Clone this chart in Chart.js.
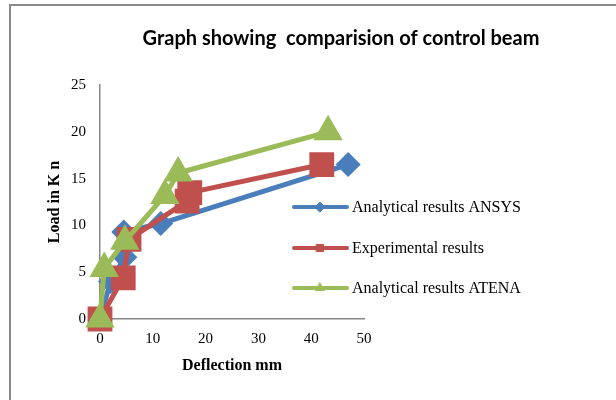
<!DOCTYPE html>
<html>
<head>
<meta charset="utf-8">
<script src="https://cdn.jsdelivr.net/npm/chart.js@4.4.1/dist/chart.umd.min.js"></script>
<style>
  html, body { margin: 0; padding: 0; background: #fff; }
  #wrap { width: 616px; height: 400px; position: relative; }
</style>
</head>
<body>
<div id="wrap"><canvas id="beamChart"></canvas></div>
<script>
// values
const seriesNames = ['Analytical results ANSYS', 'Experimental results', 'Analytical results ATENA'];

const ansysX = [0, 2, 4.7, 4.5, 11.5, 47];
const ansysY = [0, 4, 6.6, 9.3, 10.2, 16.5];

const expX = [0, 4.4, 5.5, 16.5, 17, 42];
const expY = [0, 4.4, 8.5, 12.6, 13.5, 16.5];

const atenaX = [0, 0.8, 4.7, 12.3, 14.8, 43.2];
const atenaY = [0, 5.4, 8.3, 13.2, 15.6, 20];

const xTicks = [0, 10, 20, 30, 40, 50];
const yTicks = [0, 5, 10, 15, 20, 25];

const chartTitle = 'Graph showing  comparision of control beam';

function pairs(xs, ys) {
    return xs.map((x, i) => ({ x: x, y: ys[i] }));
}

const serif = "'Liberation Serif', 'Times New Roman', serif";

// frame, title and the legend on the right
const decorPlugin = {
    id: 'decor',
    afterDraw(chart) {
        const ctx = chart.ctx;
        ctx.save();
        // outer frame (only top and left edges show)
        ctx.strokeStyle = '#8a8a8a';
        ctx.lineWidth = 2;
        ctx.beginPath();
        ctx.moveTo(10, 400);
        ctx.lineTo(10, 5);
        ctx.lineTo(616, 5);
        ctx.stroke();

        // title
        ctx.fillStyle = '#000';
        ctx.font = "bold 20px Lato, 'Open Sans', sans-serif";
        ctx.textAlign = 'center';
        ctx.textBaseline = 'middle';
        ctx.fillText(chartTitle, 341, 39);

        // legend
        const rows = [207, 248, 288];
        chart.data.datasets.forEach((ds, i) => {
            const y = rows[i];
            ctx.strokeStyle = ds.borderColor;
            ctx.lineWidth = 4;
            ctx.lineCap = 'round';
            ctx.beginPath();
            ctx.moveTo(294, y);
            ctx.lineTo(347, y);
            ctx.stroke();
            ctx.fillStyle = ds.backgroundColor;
            ctx.strokeStyle = ds.borderColor;
            ctx.lineWidth = 1;
            Chart.helpers.drawPoint(ctx, { pointStyle: ds.pointStyle, radius: 5, borderWidth: 1 }, 320, y);
            ctx.fillStyle = '#000';
            ctx.font = '16px ' + serif;
            ctx.textAlign = 'left';
            ctx.textBaseline = 'middle';
            ctx.fillText(ds.label, 352, y + 1);
        });
        ctx.restore();
    }
};

const ctx = document.getElementById('beamChart').getContext('2d');
new Chart(ctx, {
    type: 'line',
    data: {
        datasets: [{
            label: seriesNames[0],
            data: pairs(ansysX, ansysY),
            borderColor: '#4a7ebb',
            backgroundColor: '#4a7ebb',
            borderWidth: 5,
            pointStyle: 'rectRot',
            pointRadius: 9,
            order: 2
        }, {
            label: seriesNames[1],
            data: pairs(expX, expY),
            borderColor: '#c0504d',
            backgroundColor: '#c0504d',
            borderWidth: 5,
            pointStyle: 'rect',
            pointRadius: 14,
            order: 1
        }, {
            label: seriesNames[2],
            data: pairs(atenaX, atenaY),
            borderColor: '#9bbb59',
            backgroundColor: '#9bbb59',
            borderWidth: 5,
            pointStyle: 'triangle',
            pointRadius: 12,
            order: 0
        }]
    },
    options: {
        responsive: true,
        maintainAspectRatio: false,
        animation: false,
        events: [],
        layout: {
            padding: { left: 0, top: 85, right: 252, bottom: 21 }
        },
        elements: {
            line: { tension: 0, borderJoinStyle: 'round', borderCapStyle: 'round' },
            point: { borderWidth: 0 }
        },
        datasets: {
            line: { clip: false, fill: false }
        },
        plugins: {
            legend: { display: false },
            tooltip: { enabled: false }
        },
        scales: {
            x: {
                type: 'linear',
                min: 0,
                max: 50,
                afterFit: scale => { scale.height = 60; },
                afterBuildTicks: scale => { scale.ticks = xTicks.map(v => ({ value: v })); },
                grid: { display: false, drawTicks: false },
                border: { color: '#878787', width: 1.5 },
                ticks: {
                    color: '#000',
                    padding: 11,
                    maxRotation: 0,
                    font: { family: serif, size: 15 }
                },
                title: {
                    display: true,
                    text: 'Deflection mm',
                    color: '#000',
                    padding: { top: 0, bottom: 4 },
                    font: { family: serif, size: 16, weight: 'bold' }
                }
            },
            y: {
                type: 'linear',
                min: 0,
                max: 25,
                afterFit: scale => { scale.width = 100; },
                afterBuildTicks: scale => { scale.ticks = yTicks.map(v => ({ value: v })); },
                grid: { display: false, drawTicks: false },
                border: { color: '#878787', width: 1.5 },
                ticks: {
                    color: '#000',
                    padding: 14,
                    font: { family: serif, size: 15 }
                },
                title: {
                    display: true,
                    text: 'Load in K n',
                    color: '#000',
                    padding: { top: 45, bottom: 0 },
                    font: { family: serif, size: 16, weight: 'bold' }
                }
            }
        }
    },
    plugins: [decorPlugin]
});
</script>
</body>
</html>
